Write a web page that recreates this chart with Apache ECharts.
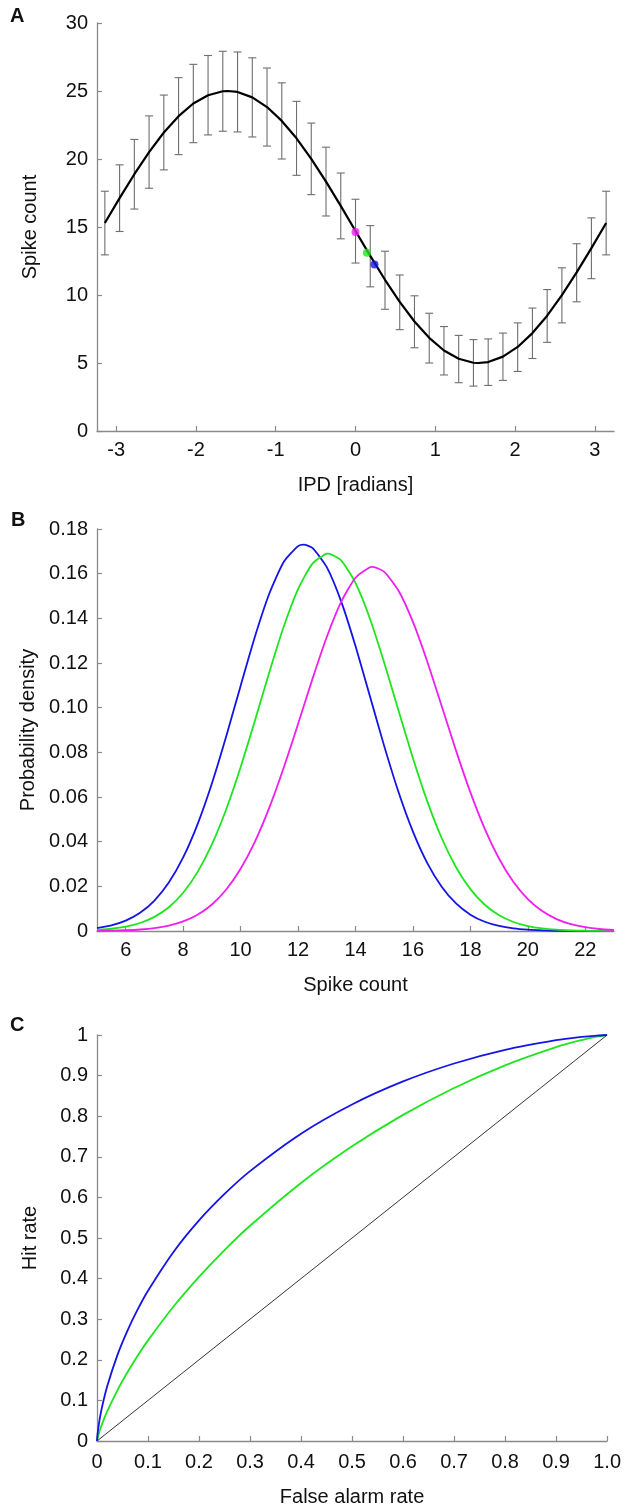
<!DOCTYPE html>
<html><head><meta charset="utf-8">
<script src="https://cdn.jsdelivr.net/npm/echarts@6/dist/echarts.min.js"></script>
<style>html,body{margin:0;padding:0;background:#fff}#c{width:624px;height:1511px}</style>
</head><body><div id="c"></div>
<script>
// Panel A: tuning curve (IPD in radians)
var ipd = [-3.1416,-2.9568,-2.7720,-2.5872,-2.4024,-2.2176,-2.0328,-1.8480,-1.6632,-1.4784,-1.2936,-1.1088,-0.9240,-0.7392,-0.5544,-0.3696,-0.1848,0,0.1848,0.3696,0.5544,0.7392,0.9240,1.1088,1.2936,1.4784,1.6632,1.8480,2.0328,2.2176,2.4024,2.5872,2.7720,2.9568,3.1416];
var meanCount = [15.29,17.12,18.88,20.51,21.95,23.15,24.08,24.69,24.98,24.93,24.53,23.82,22.80,21.52,20.01,18.34,16.55,14.71,12.88,11.12,9.49,8.05,6.85,5.92,5.31,5.02,5.07,5.47,6.18,7.20,8.48,9.99,11.66,13.45,15.29];
var errLow = [12.95,14.67,16.32,17.85,19.20,20.32,21.20,21.77,22.04,21.99,21.62,20.95,20.00,18.80,17.38,15.81,14.13,12.35,10.60,8.95,7.45,6.12,5.00,4.12,3.55,3.30,3.35,3.72,4.38,5.33,6.52,7.95,9.50,11.20,12.95];
var errHigh = [17.63,19.57,21.44,23.17,24.70,25.98,26.96,27.61,27.92,27.87,27.44,26.69,25.60,24.24,22.64,20.87,18.97,17.04,15.10,13.22,11.47,9.94,8.66,7.68,7.03,6.72,6.77,7.20,7.95,9.04,10.40,12.00,13.77,15.67,17.63];
var curvePeak = [-1.60, 25.00];
var curveTrough = [1.54, 5.00];
var dotMagenta = [0, 14.63];
var dotGreen = [0.143, 13.10];
var dotBlue = [0.238, 12.24];
var ipdTicks = [-3,-2,-1,0,1,2,3];

// Panel B: spike count distributions
var spikeX = [5,5.5,6,6.5,7,7.5,8,8.5,9,9.5,10,10.5,11,11.5,12,12.5,13,13.5,14,14.5,15,15.5,16,16.5,17,17.5,18,18.5,19,19.5,20,20.5,21,21.5,22,22.5,23];
var pdfBlue = [0.00132,0.00254,0.00466,0.00815,0.01362,0.02168,0.03294,0.04776,0.06605,0.08717,0.10975,0.13184,0.15110,0.16521,0.17235,0.17154,0.16290,0.14758,0.12757,0.10521,0.08278,0.06214,0.04451,0.03041,0.01983,0.01233,0.00732,0.00414,0.00224,0.00115,0.00057,0.00027,0.00012,0.00005,0.00002,0.00001,0.00000];
var pdfGreen = [0.00050,0.00101,0.00195,0.00359,0.00632,0.01064,0.01712,0.02635,0.03876,0.05452,0.07332,0.09427,0.11589,0.13621,0.15307,0.16447,0.16896,0.16596,0.15585,0.13993,0.12013,0.09859,0.07738,0.05805,0.04164,0.02856,0.01873,0.01174,0.00704,0.00404,0.00221,0.00116,0.00058,0.00028,0.00013,0.00006,0.00002];
var pdfMagenta = [0.00007,0.00016,0.00034,0.00068,0.00131,0.00242,0.00429,0.00729,0.01188,0.01858,0.02785,0.04005,0.05523,0.07306,0.09269,0.11279,0.13163,0.14734,0.15817,0.16287,0.16084,0.15234,0.13839,0.12059,0.10077,0.08076,0.06208,0.04577,0.03237,0.02195,0.01428,0.00891,0.00533,0.00306,0.00169,0.00089,0.00045];
var peakBlue = [12.2, 0.1730];
var peakGreen = [13.05, 0.1690];
var peakMagenta = [14.6, 0.1630];
var spikeTicks = [6,8,10,12,14,16,18,20,22];

// Panel C: ROC curves
var falseAlarm = [0,0.001,0.005,0.01,0.02,0.04,0.06,0.08,0.1,0.15,0.2,0.25,0.3,0.4,0.5,0.6,0.7,0.8,0.9,0.95,0.98,1];
var hitBlue = [0,0.0162,0.0520,0.0844,0.1348,0.2116,0.2726,0.3246,0.3701,0.4656,0.5432,0.6085,0.6648,0.7570,0.8289,0.8856,0.9298,0.9634,0.9872,0.9953,0.9987,1];
var hitGreen = [0,0.0064,0.0241,0.0422,0.0730,0.1249,0.1698,0.2104,0.2478,0.3313,0.4045,0.4703,0.5301,0.6356,0.7257,0.8033,0.8696,0.9253,0.9701,0.9876,0.9960,1];
var chance = [[0,0],[1,1]];

function pairs(xs, ys, extra){
  var out = xs.map(function(x,i){return [x, ys[i]];});
  (extra||[]).forEach(function(p){ out.push(p); });
  out.sort(function(a,b){ return a[0]-b[0]; });
  return out;
}

var FONT = "'Liberation Sans', Arial, sans-serif";
var FS = 20;
var AX = '#8a8a8a';
var BLUE = '#1414e6', GREEN = '#1ee61e', MAGENTA = '#f01ef0';

function xAxisBase(extra){
  var o = {
    type:'value', nameLocation:'middle', nameGap:44,
    nameTextStyle:{fontFamily:FONT, fontSize:FS, color:'#111'},
    axisLine:{show:true, onZero:false, lineStyle:{color:AX, width:1.3}},
    axisTick:{show:true, inside:true, length:5, lineStyle:{color:AX, width:1.2}},
    axisLabel:{fontFamily:FONT, fontSize:FS, color:'#111', margin:9},
    splitLine:{show:false}
  };
  for (var k in extra) o[k]=extra[k];
  return o;
}
function yAxisBase(extra){
  var o = {
    type:'value', nameLocation:'middle', nameGap:57,
    nameTextStyle:{fontFamily:FONT, fontSize:FS, color:'#111'},
    axisLine:{show:true, onZero:false, lineStyle:{color:AX, width:1.3}},
    axisTick:{show:true, inside:true, length:5, lineStyle:{color:AX, width:1.2}},
    axisLabel:{fontFamily:FONT, fontSize:FS, color:'#111', margin:9},
    splitLine:{show:false}
  };
  for (var k in extra) o[k]=extra[k];
  return o;
}

var chart = echarts.init(document.getElementById('c'), null, {renderer:'canvas'});
var option = {
  animation:false,
  backgroundColor:'#fff',
  grid:[
    {left:97, top:23, width:517, height:408},
    {left:97, top:529, width:517, height:402},
    {left:97, top:1035, width:517, height:406}
  ],
  xAxis:[
    xAxisBase({gridIndex:0, min:-3.24, max:3.24, name:'IPD [radians]',
      axisTick:{show:true, inside:true, length:5, customValues:ipdTicks, lineStyle:{color:AX, width:1.2}},
      axisLabel:{fontFamily:FONT, fontSize:FS, color:'#111', margin:9, customValues:ipdTicks}}),
    xAxisBase({gridIndex:1, min:5, max:23, name:'Spike count',
      axisTick:{show:true, inside:true, length:5, customValues:spikeTicks, lineStyle:{color:AX, width:1.2}},
      axisLabel:{fontFamily:FONT, fontSize:FS, color:'#111', margin:9, customValues:spikeTicks}}),
    xAxisBase({gridIndex:2, min:0, max:1, interval:0.1, name:'False alarm rate', nameGap:46,
      axisLabel:{fontFamily:FONT, fontSize:FS, color:'#111', margin:11,
        formatter:function(v){ return Math.abs(v)<1e-9 ? '0' : v.toFixed(1); }}})
  ],
  yAxis:[
    yAxisBase({gridIndex:0, min:0, max:30, interval:5, name:'Spike count'}),
    yAxisBase({gridIndex:1, min:0, max:0.18, interval:0.02, name:'Probability density',
      axisLabel:{fontFamily:FONT, fontSize:FS, color:'#111', margin:9,
        formatter:function(v){ return Math.abs(v)<1e-9 ? '0' : v.toFixed(2); }}}),
    yAxisBase({gridIndex:2, min:0, max:1, interval:0.1, name:'Hit rate',
      axisLabel:{fontFamily:FONT, fontSize:FS, color:'#111', margin:9,
        formatter:function(v){ if(Math.abs(v)<1e-9) return '0'; if(Math.abs(v-1)<1e-9) return '1'; return v.toFixed(1); }}})
  ],
  graphic:[
    {type:'text', left:10, top:6, style:{text:'A', font:'bold 20px '+FONT, fill:'#111'}},
    {type:'text', left:11, top:510, style:{text:'B', font:'bold 20px '+FONT, fill:'#111'}},
    {type:'text', left:10, top:1015, style:{text:'C', font:'bold 20px '+FONT, fill:'#111'}}
  ],
  series:[
    {
      type:'custom', xAxisIndex:0, yAxisIndex:0, z:2,
      data: ipd.map(function(x,i){ return [x, errLow[i], errHigh[i]]; }),
      encode:{x:0, y:[1,2]},
      renderItem:function(params, api){
        var x = api.value(0);
        var pTop = api.coord([x, api.value(2)]);
        var pBot = api.coord([x, api.value(1)]);
        var w = 4;
        var st = {stroke:'#6e6e6e', lineWidth:1.1};
        return {type:'group', children:[
          {type:'line', shape:{x1:pTop[0], y1:pTop[1], x2:pBot[0], y2:pBot[1]}, style:st},
          {type:'line', shape:{x1:pTop[0]-w, y1:pTop[1], x2:pTop[0]+w, y2:pTop[1]}, style:st},
          {type:'line', shape:{x1:pBot[0]-w, y1:pBot[1], x2:pBot[0]+w, y2:pBot[1]}, style:st}
        ]};
      }
    },
    {type:'line', xAxisIndex:0, yAxisIndex:0, data:pairs(ipd, meanCount, [curvePeak, curveTrough]), smooth:false, showSymbol:false,
      lineStyle:{color:'#000', width:2.2, join:'round'}, z:3},
    {type:'scatter', xAxisIndex:0, yAxisIndex:0, data:[dotMagenta], symbolSize:8, itemStyle:{color:MAGENTA}, z:5},
    {type:'scatter', xAxisIndex:0, yAxisIndex:0, data:[dotGreen], symbolSize:8, itemStyle:{color:GREEN}, z:5},
    {type:'scatter', xAxisIndex:0, yAxisIndex:0, data:[dotBlue], symbolSize:8, itemStyle:{color:BLUE}, z:5},

    {type:'line', xAxisIndex:1, yAxisIndex:1, data:pairs(spikeX, pdfBlue, [peakBlue]), smooth:0.2, showSymbol:false, lineStyle:{color:BLUE, width:1.8, join:'round'}},
    {type:'line', xAxisIndex:1, yAxisIndex:1, data:pairs(spikeX, pdfGreen, [peakGreen]), smooth:0.2, showSymbol:false, lineStyle:{color:GREEN, width:1.8, join:'round'}},
    {type:'line', xAxisIndex:1, yAxisIndex:1, data:pairs(spikeX, pdfMagenta, [peakMagenta]), smooth:0.2, showSymbol:false, lineStyle:{color:MAGENTA, width:1.8, join:'round'}},

    {type:'line', xAxisIndex:2, yAxisIndex:2, data:chance, showSymbol:false, lineStyle:{color:'#000', width:0.8}},
    {type:'line', xAxisIndex:2, yAxisIndex:2, data:pairs(falseAlarm, hitGreen), smooth:0.3, showSymbol:false, lineStyle:{color:GREEN, width:1.8}},
    {type:'line', xAxisIndex:2, yAxisIndex:2, data:pairs(falseAlarm, hitBlue), smooth:0.3, showSymbol:false, lineStyle:{color:BLUE, width:1.8}}
  ]
};
chart.setOption(option);
</script>
</body></html>
